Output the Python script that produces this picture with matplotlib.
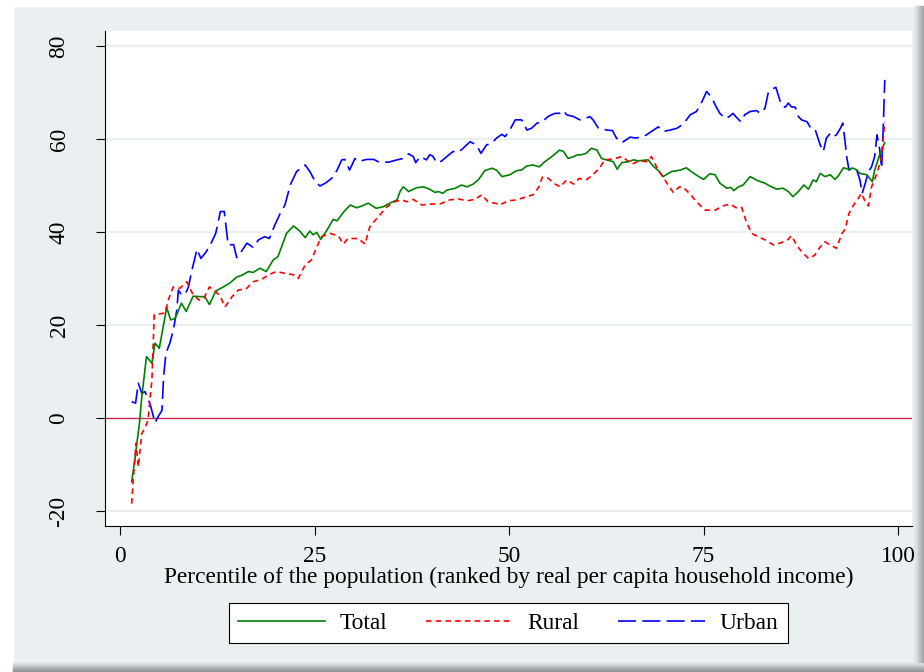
import matplotlib
matplotlib.use("Agg")
import matplotlib.pyplot as plt
from matplotlib.patches import Rectangle

plt.rcParams['font.family'] = ['Liberation Serif', 'DejaVu Serif']
plt.rcParams['lines.scale_dashes'] = False

# ---------------- data ----------------
total_x = [1.5, 1.9, 2.5, 2.8, 3.4, 4.1, 4.5, 5.05, 6.0, 6.5, 7.07, 7.9, 8.5, 9.4, 10.3, 10.9, 11.5, 12.3, 13.3, 14.1,
           15.0, 15.8, 16.5, 17.1, 18.0, 18.8, 19.7, 20.3, 21.4, 22.3, 23.1, 23.8, 24.4, 24.8, 25.3, 25.8, 26.6, 27.4, 27.9, 28.7,
           29.6, 30.4, 31.1, 31.9, 32.9, 33.8, 34.7, 35.6, 36.0, 36.4, 37.1, 38.1, 39.0, 39.8, 40.5, 40.9, 41.5, 42.0, 43.1, 43.9,
           44.6, 45.4, 46.1, 46.9, 47.8, 48.4, 49.1, 50.1, 51.0, 51.6, 52.3, 53.1, 53.9, 54.6, 55.5, 56.5, 57.0, 57.6, 58.3, 58.8,
           59.3, 59.9, 60.6, 61.3, 61.9, 63.0, 63.4, 63.9, 64.5, 65.3, 66.0, 66.6, 67.9, 68.5, 69.2, 69.8, 70.9, 72.0, 72.8, 73.5,
           74.3, 75.0, 75.8, 76.5, 77.1, 78.0, 78.5, 78.9, 79.5, 80.1, 81.0, 82.0, 82.9, 83.5, 84.4, 85.2, 85.9, 86.5, 87.2, 87.9,
           88.5, 89.1, 89.5, 90.0, 90.6, 91.3, 91.9, 92.3, 93.0, 93.6, 94.3, 94.7, 95.1, 96.0, 96.7, 97.0, 97.7, 98.3]
total_y = [-13.7, -9.0, -1.1, 4.6, 13.2, 11.8, 16.1, 15.0, 23.8, 21.1, 21.4, 24.7, 22.9, 26.2, 26.1, 26.1, 24.4, 27.3, 28.2, 29.0,
           30.3, 30.8, 31.5, 31.3, 32.2, 31.5, 34.0, 34.7, 39.7, 41.3, 40.2, 38.8, 40.2, 39.4, 39.9, 38.4, 40.4, 42.7, 42.4, 44.2,
           45.8, 45.2, 45.6, 46.2, 45.1, 45.4, 46.2, 46.9, 48.7, 49.7, 48.7, 49.5, 49.7, 49.2, 48.5, 48.7, 48.3, 49.0, 49.4, 50.1,
           49.7, 50.3, 51.3, 53.2, 53.7, 53.3, 51.9, 52.3, 53.2, 53.3, 54.2, 54.4, 54.0, 55.1, 56.2, 57.6, 57.3, 55.8, 56.2, 56.6,
           56.6, 56.9, 58.0, 57.6, 55.8, 55.3, 55.1, 53.5, 54.9, 55.1, 55.5, 55.3, 55.5, 54.2, 53.2, 51.9, 53.0, 53.3, 53.8, 52.9,
           52.0, 51.3, 52.5, 52.3, 50.5, 49.4, 49.6, 48.9, 49.7, 50.1, 51.9, 51.0, 50.5, 49.9, 49.2, 49.4, 48.7, 47.6, 48.7, 50.1,
           49.2, 51.2, 50.8, 52.6, 51.9, 52.3, 51.3, 52.0, 53.8, 53.5, 53.7, 53.3, 52.6, 52.3, 50.8, 53.3, 56.9, 59.2]

rural_x = [1.5, 1.7, 2.06, 2.35, 2.8, 3.2, 3.6, 4.1, 4.4, 5.1, 5.8, 6.2, 6.85, 7.7, 8.6, 9.3, 10.1, 10.7, 11.5, 12.3,
           12.9, 13.5, 14.4, 15.2, 16.3, 17.1, 18.2, 19.1, 20.1, 21.2, 22.3, 22.9, 23.8, 24.6, 25.3, 25.9, 27.0, 28.1, 28.7, 29.3,
           30.6, 31.5, 32.1, 33.2, 34.3, 35.3, 36.2, 36.9, 37.7, 38.8, 39.8, 41.1, 42.4, 43.5, 44.6, 45.6, 46.5, 47.3, 48.4, 48.8,
           49.9, 51.0, 52.1, 53.1, 53.8, 54.3, 55.1, 55.7, 56.6, 57.4, 58.3, 59.0, 60.0, 60.8, 61.7, 62.3, 63.4, 64.5, 65.1, 65.8,
           66.8, 67.7, 68.3, 69.0, 69.6, 70.3, 71.1, 71.9, 72.4, 73.3, 74.1, 75.2, 76.5, 77.5, 78.4, 79.3, 79.9, 80.5, 81.2, 82.0,
           82.9, 84.0, 84.8, 85.7, 86.3, 87.0, 87.6, 88.5, 89.3, 90.0, 90.6, 91.3, 92.1, 92.8, 93.2, 93.7, 94.3, 94.9, 95.3, 95.8,
           96.2, 96.6, 97.3, 97.9, 98.3]
rural_y = [-18.4, -13.3, -5.4, -10.5, -3.3, -2.2, -0.4, 8.2, 22.2, 22.4, 22.6, 25.4, 28.2, 27.9, 29.3, 26.8, 25.4, 25.5, 28.2, 27.2,
           26.1, 23.9, 26.1, 27.5, 27.9, 29.3, 29.8, 30.8, 31.5, 31.1, 30.8, 30.0, 32.9, 34.0, 36.8, 39.0, 39.7, 39.1, 37.4, 38.6,
           38.6, 37.4, 41.1, 43.3, 45.4, 46.5, 46.9, 46.5, 47.0, 45.8, 46.0, 46.0, 46.9, 47.1, 46.7, 47.0, 48.0, 46.5, 46.1, 45.8,
           46.7, 46.9, 47.5, 48.0, 49.6, 51.8, 51.5, 50.5, 49.7, 51.2, 50.3, 51.5, 51.3, 52.3, 53.9, 55.5, 55.7, 56.2, 55.5, 54.6,
           55.3, 55.1, 56.2, 53.9, 52.3, 50.5, 48.5, 49.7, 49.6, 48.1, 46.5, 44.7, 44.7, 45.6, 46.0, 45.1, 45.3, 42.2, 39.7, 39.0,
           38.3, 37.2, 37.6, 38.1, 39.2, 37.1, 35.8, 34.3, 35.0, 36.8, 37.9, 37.2, 36.5, 39.7, 40.6, 44.0, 45.8, 47.2, 48.3, 46.5,
           45.6, 49.7, 52.6, 56.2, 63.7]

urban_x = [1.5, 2.0, 2.35, 2.8, 3.2, 3.5, 3.9, 4.5, 4.9, 5.4, 5.6, 5.9, 6.4, 6.85, 7.3, 7.5, 7.9, 8.4, 8.8, 9.2,
           9.9, 10.4, 11.1, 11.8, 12.3, 12.9, 13.4, 13.9, 14.6, 15.0, 15.6, 16.3, 17.1, 17.8, 18.6, 19.2, 19.9, 20.6, 21.2, 21.9,
           22.7, 23.8, 24.4, 25.1, 25.7, 26.4, 27.2, 27.9, 28.5, 28.9, 29.5, 30.2, 30.8, 31.7, 32.6, 33.2, 34.5, 35.6, 36.4, 37.1,
           37.7, 38.0, 38.6, 39.4, 39.8, 40.2, 40.7, 41.3, 42.0, 42.8, 43.5, 44.1, 45.0, 45.8, 46.4, 47.1, 47.8, 48.4, 49.1, 49.5,
           50.1, 50.8, 51.6, 51.8, 52.3, 52.9, 53.6, 54.2, 54.6, 55.1, 55.9, 56.5, 57.0, 57.4, 58.3, 59.1, 59.8, 60.4, 60.8, 61.5,
           62.6, 63.3, 63.8, 64.5, 65.6, 66.2, 67.1, 67.7, 68.3, 69.2, 69.8, 70.7, 71.6, 72.4, 73.3, 74.1, 74.8, 75.4, 76.1, 76.5,
           77.1, 77.8, 78.3, 78.8, 79.2, 79.8, 80.3, 81.0, 81.8, 82.3, 82.9, 83.3, 83.8, 84.3, 84.6, 85.0, 85.5, 85.9, 86.3, 86.8,
           87.2, 87.6, 88.3, 88.7, 89.3, 90.0, 90.4, 90.8, 91.3, 91.7, 92.1, 92.6, 92.9, 93.2, 93.4, 93.7, 94.3, 94.7, 95.1, 95.4,
           95.8, 96.2, 96.6, 97.0, 97.3, 97.6, 97.9, 98.1, 98.3]
urban_y = [3.5, 3.2, 7.5, 5.3, 5.7, 4.6, 2.8, -1.0, 0.3, 1.7, 8.9, 13.9, 16.1, 18.9, 23.2, 27.5, 26.5, 26.7, 28.2, 31.5,
           36.3, 34.3, 35.8, 37.9, 39.7, 44.4, 44.4, 37.2, 37.3, 34.5, 35.8, 37.6, 36.7, 38.3, 39.0, 38.6, 41.5, 44.0, 45.8, 50.2,
           53.0, 54.4, 53.0, 50.8, 49.9, 50.5, 51.5, 53.3, 55.5, 55.6, 53.3, 55.8, 55.2, 55.6, 55.6, 55.1, 55.0, 55.5, 55.8, 56.8,
           56.2, 54.9, 56.2, 55.5, 56.6, 56.3, 54.9, 55.2, 56.2, 57.3, 57.1, 58.0, 59.4, 58.7, 56.9, 58.7, 59.1, 60.2, 61.0, 60.5,
           61.9, 64.1, 64.1, 63.7, 61.9, 62.3, 63.4, 63.6, 64.2, 64.9, 65.5, 65.5, 66.1, 65.2, 64.8, 64.1, 64.4, 64.8, 64.1, 62.3,
           61.9, 61.8, 60.2, 59.2, 60.4, 60.2, 60.4, 60.9, 61.6, 62.6, 61.6, 61.9, 62.3, 63.2, 65.2, 65.9, 68.0, 70.2, 68.8, 67.3,
           65.5, 64.4, 64.8, 65.5, 64.7, 63.7, 65.2, 65.9, 66.1, 65.5, 66.6, 69.8, 70.7, 71.1, 69.5, 67.3, 66.8, 67.7, 66.9, 66.8,
           64.8, 64.1, 63.7, 62.6, 62.3, 58.7, 57.3, 60.2, 61.2, 60.5, 60.9, 62.3, 63.4, 59.4, 56.2, 53.3, 54.0, 53.3, 51.2, 48.3,
           50.5, 53.0, 54.0, 56.2, 60.9, 58.3, 53.7, 62.3, 72.7]

series_labels = ["Total", "Rural", "Urban"]
x_ticks = [0, 25, 50, 75, 100]
y_ticks = [-20, 0, 20, 40, 60, 80]
x_label = "Percentile of the population (ranked by real per capita household income)"

# ---------------- figure ----------------
BG = '#eaf0f2'
FS = 16.8
fig = plt.figure(figsize=(9.24, 6.72), dpi=100, facecolor=BG)

# frame decorations (white top/left edge, shadow bottom/right)
fig.patches.append(Rectangle((0, 1 - 6 / 672), 1, 6 / 672, transform=fig.transFigure, color='white', zorder=-5))
fig.patches.append(Rectangle((0, 0), 13 / 924, 1, transform=fig.transFigure, color='white', zorder=-5))
shades = ['#e4eaec', '#dde3e5', '#d5dbdd', '#cbd1d3', '#c0c6c8', '#b5babc', '#aaafb1', '#a0a5a7', '#989c9e', '#929698']
for i, c in enumerate(shades):
    fig.patches.append(Rectangle((13 / 924, (10 - i - 1) / 672), 1, 1 / 672, transform=fig.transFigure,
                                 color=c, zorder=-4))
for i, c in enumerate(shades[:8]):
    fig.patches.append(Rectangle(((914 + i * 1.25) / 924, 10 / 672), 1.5 / 924, 1 - 16 / 672,
                                 transform=fig.transFigure, color=c, zorder=-4))

ax = fig.add_axes([105 / 924, 1 - 526 / 672, (912 - 105) / 924, (526 - 31) / 672])
ax.set_facecolor('white')

ax.set_xlim(-1.93, 101.8)
ax.set_ylim(-23.2, 83.2)

for yt in y_ticks:
    if yt != 0:
        ax.axhline(yt, color=BG, lw=1.6, zorder=1)
ax.axhline(0, color='#c8284a', lw=1.0, zorder=2)

l1, = ax.plot(total_x, total_y, color='#008000', lw=1.2, zorder=4)
l2, = ax.plot(rural_x, rural_y, color='#ff0000', lw=1.2, zorder=4, dashes=(4.0, 3.0))
l3, = ax.plot(urban_x, urban_y, color='#0000ff', lw=1.2, zorder=3, dashes=(13.0, 4.5))

ax.set_xticks(x_ticks)
ax.set_yticks(y_ticks)
ax.set_xticklabels([str(v) for v in x_ticks], fontsize=FS)
ax.set_yticklabels([str(v) for v in y_ticks], fontsize=FS, rotation=90, va='center')
ax.tick_params(axis='both', direction='out', length=6.5, width=0.8, color='black')
ax.tick_params(axis='x', pad=8)
ax.tick_params(axis='y', pad=19)

for s in ['top', 'right']:
    ax.spines[s].set_visible(False)
for s in ['left', 'bottom']:
    ax.spines[s].set_color('black')
    ax.spines[s].set_linewidth(0.8)

ax.set_xlabel(x_label, fontsize=FS, labelpad=0)

leg = fig.legend([l1, l2, l3], series_labels, loc='center', bbox_to_anchor=(508.5 / 924, 1 - 623 / 672),
                 ncol=3, fontsize=FS, frameon=True, fancybox=False, handlelength=3.7, handletextpad=0.65,
                 columnspacing=1.66, borderpad=0.4, edgecolor='black', facecolor='white')
leg.get_frame().set_linewidth(0.8)
leg.get_frame().set_alpha(1)

fig.savefig('out.png', dpi=100, facecolor=BG)
